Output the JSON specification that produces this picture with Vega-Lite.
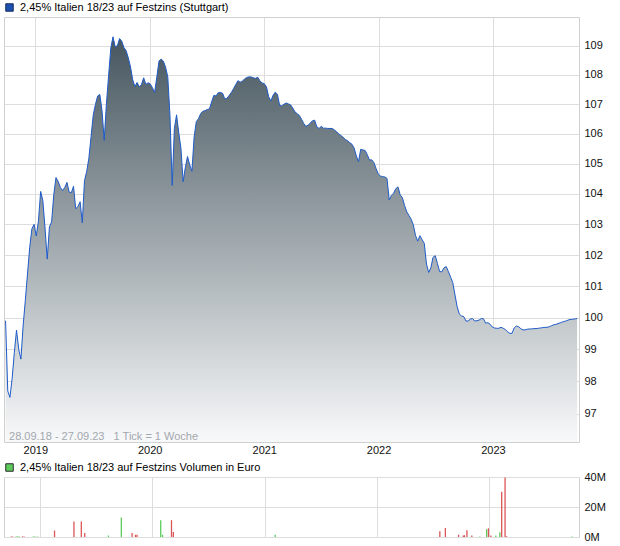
{
"$schema":"https://vega.github.io/schema/vega-lite/v6.json",
"padding":{"left":3,"top":1,"right":0,"bottom":4},
"background":"white",
"config":{
 "font":"Liberation Sans",
 "view":{"stroke":"#d0d0d0","strokeWidth":1},
 "axis":{"labelFont":"Liberation Sans","labelFontSize":11,"labelColor":"#111111","gridColor":"#dddddd","gridWidth":1,"domain":false,"ticks":false,"title":null},
 "legend":{"title":null,"orient":"top","symbolType":"square","symbolSize":56,"symbolOpacity":1,"symbolStrokeWidth":1,"labelFont":"Liberation Sans","labelFontSize":11,"labelColor":"#000000","labelOffset":5,"labelLimit":500,"offset":3,"padding":0},
 "concat":{"spacing":5}
},
"resolve":{"scale":{"fill":"independent","color":"independent"},"legend":{"fill":"independent"}},
"datasets":{
"price":[
{"date":"2018-09-28","price":99.9},{"date":"2018-10-05","price":97.7},{"date":"2018-10-12","price":97.5},{"date":"2018-10-19","price":98.09},{"date":"2018-10-26","price":98.9},
{"date":"2018-11-02","price":99.6},{"date":"2018-11-09","price":99.0},{"date":"2018-11-16","price":98.69},{"date":"2018-11-23","price":99.73},{"date":"2018-11-30","price":100.53},
{"date":"2018-12-07","price":101.39},{"date":"2018-12-14","price":102.24},{"date":"2018-12-21","price":102.85},{"date":"2018-12-28","price":103.0},
{"date":"2019-01-04","price":102.62},{"date":"2019-01-11","price":103.11},{"date":"2019-01-18","price":104.08},{"date":"2019-01-25","price":103.78},
{"date":"2019-02-01","price":102.88},{"date":"2019-02-08","price":101.87},{"date":"2019-02-15","price":102.91},{"date":"2019-02-22","price":103.08},
{"date":"2019-03-01","price":103.98},{"date":"2019-03-08","price":104.54},{"date":"2019-03-15","price":104.41},{"date":"2019-03-22","price":104.21},{"date":"2019-03-29","price":104.11},
{"date":"2019-04-05","price":104.21},{"date":"2019-04-12","price":104.38},{"date":"2019-04-19","price":104.06},{"date":"2019-04-26","price":104.04},
{"date":"2019-05-03","price":104.25},{"date":"2019-05-10","price":103.51},{"date":"2019-05-17","price":103.58},{"date":"2019-05-24","price":103.74},{"date":"2019-05-31","price":103.05},
{"date":"2019-06-07","price":104.44},{"date":"2019-06-14","price":104.74},{"date":"2019-06-21","price":105.18},{"date":"2019-06-28","price":105.91},
{"date":"2019-07-05","price":106.64},{"date":"2019-07-12","price":106.99},{"date":"2019-07-19","price":107.28},{"date":"2019-07-26","price":107.33},
{"date":"2019-08-02","price":106.78},{"date":"2019-08-09","price":105.78},{"date":"2019-08-16","price":107.01},{"date":"2019-08-23","price":107.97},{"date":"2019-08-30","price":108.92},
{"date":"2019-09-06","price":109.31},{"date":"2019-09-13","price":108.97},{"date":"2019-09-20","price":109.0},{"date":"2019-09-27","price":109.25},
{"date":"2019-10-04","price":109.16},{"date":"2019-10-11","price":108.94},{"date":"2019-10-18","price":108.83},{"date":"2019-10-25","price":108.58},
{"date":"2019-11-01","price":108.27},{"date":"2019-11-08","price":107.83},{"date":"2019-11-15","price":107.6},{"date":"2019-11-22","price":107.74},{"date":"2019-11-29","price":107.59},
{"date":"2019-12-06","price":107.67},{"date":"2019-12-13","price":107.9},{"date":"2019-12-20","price":107.67},{"date":"2019-12-27","price":107.73},
{"date":"2020-01-03","price":107.69},{"date":"2020-01-10","price":107.56},{"date":"2020-01-17","price":107.4},{"date":"2020-01-24","price":107.93},{"date":"2020-01-31","price":108.48},
{"date":"2020-02-07","price":108.54},{"date":"2020-02-14","price":108.47},{"date":"2020-02-21","price":108.26},{"date":"2020-02-28","price":107.93},
{"date":"2020-03-06","price":106.61},{"date":"2020-03-13","price":104.28},{"date":"2020-03-20","price":106.18},{"date":"2020-03-27","price":106.64},
{"date":"2020-04-03","price":106.04},{"date":"2020-04-10","price":105.51},{"date":"2020-04-17","price":104.4},{"date":"2020-04-24","price":104.88},
{"date":"2020-05-01","price":105.24},{"date":"2020-05-08","price":104.96},{"date":"2020-05-15","price":104.75},{"date":"2020-05-22","price":105.88},{"date":"2020-05-29","price":106.41},
{"date":"2020-06-05","price":106.51},{"date":"2020-06-12","price":106.68},{"date":"2020-06-19","price":106.76},{"date":"2020-06-26","price":106.78},
{"date":"2020-07-03","price":106.82},{"date":"2020-07-10","price":106.84},{"date":"2020-07-17","price":107.08},{"date":"2020-07-24","price":107.3},{"date":"2020-07-31","price":107.28},
{"date":"2020-08-07","price":107.39},{"date":"2020-08-14","price":107.4},{"date":"2020-08-21","price":107.37},{"date":"2020-08-28","price":107.18},
{"date":"2020-09-04","price":107.2},{"date":"2020-09-11","price":107.3},{"date":"2020-09-18","price":107.4},{"date":"2020-09-25","price":107.53},
{"date":"2020-10-02","price":107.67},{"date":"2020-10-09","price":107.8},{"date":"2020-10-16","price":107.75},{"date":"2020-10-23","price":107.78},{"date":"2020-10-30","price":107.86},
{"date":"2020-11-06","price":107.91},{"date":"2020-11-13","price":107.93},{"date":"2020-11-20","price":107.93},{"date":"2020-11-27","price":107.9},
{"date":"2020-12-04","price":107.88},{"date":"2020-12-11","price":107.92},{"date":"2020-12-18","price":107.8},{"date":"2020-12-25","price":107.72},
{"date":"2021-01-01","price":107.7},{"date":"2021-01-08","price":107.59},{"date":"2021-01-15","price":107.26},{"date":"2021-01-22","price":107.11},{"date":"2021-01-29","price":107.3},
{"date":"2021-02-05","price":107.41},{"date":"2021-02-12","price":107.34},{"date":"2021-02-19","price":106.97},{"date":"2021-02-26","price":106.94},
{"date":"2021-03-05","price":107.0},{"date":"2021-03-12","price":107.04},{"date":"2021-03-19","price":107.01},{"date":"2021-03-26","price":106.98},
{"date":"2021-04-02","price":106.87},{"date":"2021-04-09","price":106.74},{"date":"2021-04-16","price":106.68},{"date":"2021-04-23","price":106.62},{"date":"2021-04-30","price":106.49},
{"date":"2021-05-07","price":106.35},{"date":"2021-05-14","price":106.25},{"date":"2021-05-21","price":106.29},{"date":"2021-05-28","price":106.36},
{"date":"2021-06-04","price":106.44},{"date":"2021-06-11","price":106.46},{"date":"2021-06-18","price":106.23},{"date":"2021-06-25","price":106.18},
{"date":"2021-07-02","price":106.25},{"date":"2021-07-09","price":106.19},{"date":"2021-07-16","price":106.19},{"date":"2021-07-23","price":106.18},{"date":"2021-07-30","price":106.18},
{"date":"2021-08-06","price":106.18},{"date":"2021-08-13","price":106.13},{"date":"2021-08-20","price":106.07},{"date":"2021-08-27","price":106.0},
{"date":"2021-09-03","price":105.94},{"date":"2021-09-10","price":105.88},{"date":"2021-09-17","price":105.81},{"date":"2021-09-24","price":105.77},
{"date":"2021-10-01","price":105.7},{"date":"2021-10-08","price":105.65},{"date":"2021-10-15","price":105.52},{"date":"2021-10-22","price":105.26},{"date":"2021-10-29","price":105.07},
{"date":"2021-11-05","price":105.48},{"date":"2021-11-12","price":105.46},{"date":"2021-11-19","price":105.44},{"date":"2021-11-26","price":105.3},
{"date":"2021-12-03","price":105.12},{"date":"2021-12-10","price":105.13},{"date":"2021-12-17","price":105.04},{"date":"2021-12-24","price":104.84},{"date":"2021-12-31","price":104.66},
{"date":"2022-01-07","price":104.59},{"date":"2022-01-14","price":104.57},{"date":"2022-01-21","price":104.56},{"date":"2022-01-28","price":104.51},
{"date":"2022-02-04","price":103.8},{"date":"2022-02-11","price":103.95},{"date":"2022-02-18","price":104.02},{"date":"2022-02-25","price":104.17},
{"date":"2022-03-04","price":104.23},{"date":"2022-03-11","price":103.97},{"date":"2022-03-18","price":103.88},{"date":"2022-03-25","price":103.62},
{"date":"2022-04-01","price":103.41},{"date":"2022-04-08","price":103.29},{"date":"2022-04-15","price":103.17},{"date":"2022-04-22","price":102.98},{"date":"2022-04-29","price":102.64},
{"date":"2022-05-06","price":102.45},{"date":"2022-05-13","price":102.63},{"date":"2022-05-20","price":102.5},{"date":"2022-05-27","price":102.38},
{"date":"2022-06-03","price":101.71},{"date":"2022-06-10","price":101.44},{"date":"2022-06-17","price":101.59},{"date":"2022-06-24","price":101.93},
{"date":"2022-07-01","price":101.98},{"date":"2022-07-08","price":101.73},{"date":"2022-07-15","price":101.47},{"date":"2022-07-22","price":101.46},{"date":"2022-07-29","price":101.59},
{"date":"2022-08-05","price":101.63},{"date":"2022-08-12","price":101.47},{"date":"2022-08-19","price":101.29},{"date":"2022-08-26","price":101.11},
{"date":"2022-09-02","price":100.72},{"date":"2022-09-09","price":100.34},{"date":"2022-09-16","price":100.11},{"date":"2022-09-23","price":100.05},{"date":"2022-09-30","price":100.03},
{"date":"2022-10-07","price":99.89},{"date":"2022-10-14","price":99.89},{"date":"2022-10-21","price":99.95},{"date":"2022-10-28","price":99.97},
{"date":"2022-11-04","price":99.89},{"date":"2022-11-11","price":99.9},{"date":"2022-11-18","price":99.92},{"date":"2022-11-25","price":99.97},
{"date":"2022-12-02","price":99.96},{"date":"2022-12-09","price":99.82},{"date":"2022-12-16","price":99.84},{"date":"2022-12-23","price":99.79},{"date":"2022-12-30","price":99.7},
{"date":"2023-01-06","price":99.67},{"date":"2023-01-13","price":99.66},{"date":"2023-01-20","price":99.66},{"date":"2023-01-27","price":99.69},
{"date":"2023-02-03","price":99.66},{"date":"2023-02-10","price":99.62},{"date":"2023-02-17","price":99.55},{"date":"2023-02-24","price":99.5},
{"date":"2023-03-03","price":99.5},{"date":"2023-03-10","price":99.67},{"date":"2023-03-17","price":99.73},{"date":"2023-03-24","price":99.71},{"date":"2023-03-31","price":99.65},
{"date":"2023-04-07","price":99.61},{"date":"2023-04-14","price":99.61},{"date":"2023-04-21","price":99.63},{"date":"2023-04-28","price":99.64},
{"date":"2023-05-05","price":99.64},{"date":"2023-05-12","price":99.65},{"date":"2023-05-19","price":99.65},{"date":"2023-05-26","price":99.66},
{"date":"2023-06-02","price":99.67},{"date":"2023-06-09","price":99.68},{"date":"2023-06-16","price":99.69},{"date":"2023-06-23","price":99.69},{"date":"2023-06-30","price":99.71},
{"date":"2023-07-07","price":99.74},{"date":"2023-07-14","price":99.77},{"date":"2023-07-21","price":99.78},{"date":"2023-07-28","price":99.81},
{"date":"2023-08-04","price":99.83},{"date":"2023-08-11","price":99.86},{"date":"2023-08-18","price":99.88},{"date":"2023-08-25","price":99.9},
{"date":"2023-09-01","price":99.93},{"date":"2023-09-08","price":99.94},{"date":"2023-09-15","price":99.95},{"date":"2023-09-22","price":99.96},{"date":"2023-09-27","price":99.97}
],
"volume":[
{"date":"2018-09-30","vol":300000,"dir":"down"},{"date":"2018-10-05","vol":300000,"dir":"down"},{"date":"2018-10-16","vol":400000,"dir":"up"},{"date":"2018-10-21","vol":400000,"dir":"up"},{"date":"2018-10-26","vol":400000,"dir":"up"},
{"date":"2018-11-06","vol":400000,"dir":"down"},{"date":"2018-11-11","vol":400000,"dir":"down"},{"date":"2018-12-11","vol":400000,"dir":"up"},{"date":"2018-12-16","vol":400000,"dir":"up"},{"date":"2018-12-24","vol":400000,"dir":"up"},
{"date":"2019-02-18","vol":4300000,"dir":"down"},{"date":"2019-04-22","vol":10400000,"dir":"down"},{"date":"2019-05-16","vol":10400000,"dir":"down"},{"date":"2019-05-27","vol":2700000,"dir":"down"},
{"date":"2019-08-12","vol":1000000,"dir":"up"},{"date":"2019-09-23","vol":13000000,"dir":"up"},{"date":"2019-10-28","vol":2700000,"dir":"down"},{"date":"2019-11-08","vol":1500000,"dir":"down"},{"date":"2019-11-13","vol":1500000,"dir":"down"},
{"date":"2020-01-29","vol":11200000,"dir":"up"},{"date":"2020-02-04","vol":1500000,"dir":"up"},{"date":"2020-03-04","vol":11200000,"dir":"down"},{"date":"2020-03-10","vol":3400000,"dir":"down"},
{"date":"2021-02-04","vol":1500000,"dir":"up"},
{"date":"2022-07-24","vol":3800000,"dir":"down"},{"date":"2022-08-11","vol":6000000,"dir":"down"},{"date":"2022-09-23","vol":1600000,"dir":"down"},{"date":"2022-10-08","vol":1000000,"dir":"down"},{"date":"2022-10-12","vol":1200000,"dir":"down"},
{"date":"2022-10-20","vol":4500000,"dir":"down"},{"date":"2022-11-05","vol":1000000,"dir":"down"},{"date":"2022-12-01","vol":400000,"dir":"up"},{"date":"2022-12-23","vol":5200000,"dir":"up"},{"date":"2022-12-29","vol":5800000,"dir":"down"},
{"date":"2023-01-06","vol":1000000,"dir":"down"},{"date":"2023-01-22","vol":1000000,"dir":"up"},{"date":"2023-02-04","vol":3200000,"dir":"up"},{"date":"2023-02-10","vol":30100000,"dir":"down"},{"date":"2023-02-21","vol":39700000,"dir":"down"},
{"date":"2023-02-26","vol":500000,"dir":"down"},{"date":"2023-09-27","vol":300000,"dir":"up"}
]
},
"vconcat":[
{
 "width":575,"height":425,
 "layer":[
  {"data":{"name":"price"},
   "mark":{"type":"area","opacity":1,"fill":{"gradient":"linear","x1":0,"y1":0,"x2":0,"y2":1,"stops":[{"offset":0,"color":"#46565f"},{"offset":1,"color":"#f8f9fa"}]},"line":{"color":"#1f5bc8","strokeWidth":1}},
   "encoding":{
    "x":{"field":"date","type":"temporal","scale":{"domain":[{"year":2018,"month":9,"date":23},{"year":2023,"month":10,"date":3}]},"axis":{"format":"%Y","tickCount":{"interval":"year","step":1},"labelPadding":2,"grid":true,"labelFlush":false}},
    "y":{"field":"price","type":"quantitative","scale":{"type":"log","domain":[96.13,110],"nice":false,"zero":false},"axis":{"orient":"right","values":[97,98,99,100,101,102,103,104,105,106,107,108,109],"labelPadding":5,"grid":true}},
    "y2":{"datum":96.13}
   }},
  {"data":{"values":[{"label":"28.09.18 - 27.09.23\u00a0\u00a0\u00a01 Tick = 1 Woche"}]},
   "mark":{"type":"text","align":"left","baseline":"alphabetic","fontSize":11,"font":"Liberation Sans","color":"#a3a8ae"},
   "encoding":{
    "x":{"datum":{"year":2018,"month":10,"date":9},"type":"temporal"},
    "y":{"datum":96.2,"type":"quantitative"},
    "text":{"field":"label"}
   }},
  {"data":{"values":[{"series":"2,45% Italien 18/23 auf Festzins (Stuttgart)"}]},
   "mark":{"type":"point","shape":"square","filled":true,"opacity":0},
   "encoding":{"fill":{"field":"series","type":"nominal","scale":{"range":["#1c50b0"]},"legend":{"symbolStrokeColor":"#1a2d5c"}}}}
 ]
},
{
 "width":575,"height":60,
 "layer":[
  {"data":{"name":"volume"},
   "mark":{"type":"bar","size":1.3},
   "encoding":{
    "x":{"field":"date","type":"temporal","scale":{"domain":[{"year":2018,"month":9,"date":23},{"year":2023,"month":10,"date":3}]},"axis":{"labels":false,"grid":true,"tickCount":{"interval":"year","step":1}}},
    "y":{"field":"vol","type":"quantitative","scale":{"domain":[0,40000000],"nice":false},"axis":{"orient":"right","values":[0,20000000,40000000],"labelExpr":"(datum.value/1000000) + 'M'","labelPadding":5,"grid":true}},
    "color":{"field":"dir","type":"nominal","scale":{"domain":["down","up"],"range":["#dc5656","#5ccb5c"]},"legend":null}
   }},
  {"data":{"values":[{"series":"2,45% Italien 18/23 auf Festzins Volumen in Euro"}]},
   "mark":{"type":"point","shape":"square","filled":true,"opacity":0},
   "encoding":{"fill":{"field":"series","type":"nominal","scale":{"range":["#5ccb5c"]},"legend":{"symbolStrokeColor":"#2a2a2a"}}}}
 ]
}
]
}
